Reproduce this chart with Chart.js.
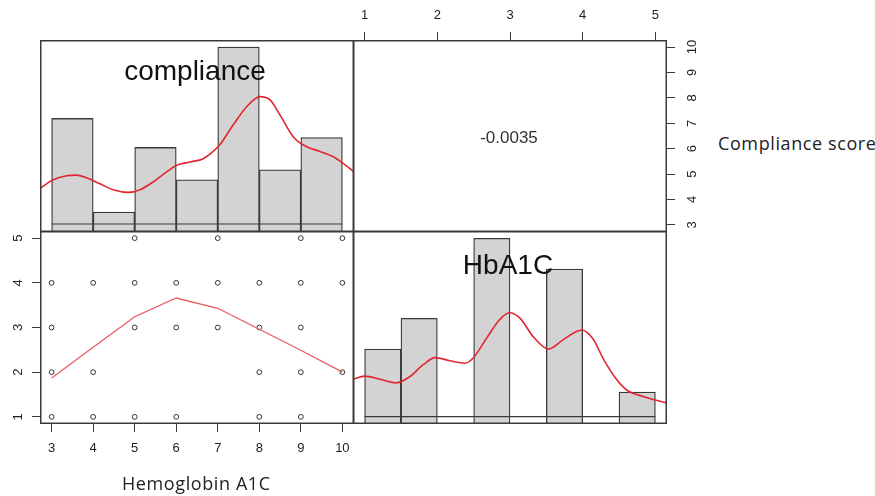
<!DOCTYPE html>
<html>
<head>
<meta charset="utf-8">
<script src="https://cdn.jsdelivr.net/npm/chart.js@4.4.0/dist/chart.umd.min.js"></script>
<style>
  body { margin: 0; background: #fff; width: 875px; height: 496px; position: relative; overflow: hidden; font-family: "Liberation Sans", Arial, sans-serif; }
  canvas { position: absolute; }
  .lbl { position: absolute; white-space: nowrap; line-height: 1; color: #111; }
  .note { position: absolute; white-space: nowrap; line-height: 1; color: #222; font-family: "Open Sans", Lato, sans-serif; letter-spacing: 0.6px; }
</style>
</head>
<body>
<canvas id="tl" width="314" height="192" style="left:40px;top:40px"></canvas>
<canvas id="tr" width="359" height="232" style="left:353px;top:0px"></canvas>
<canvas id="bl" width="354" height="238" style="left:0px;top:231px"></canvas>
<canvas id="br" width="314" height="193" style="left:353px;top:231px"></canvas>

<div class="lbl" style="left:195px;top:57px;font-size:28px;transform:translateX(-50%)">compliance</div>
<div class="lbl" style="left:508px;top:251px;font-size:28px;transform:translateX(-50%)">HbA1C</div>
<div class="lbl" style="left:509px;top:129px;font-size:17px;color:#333;transform:translateX(-50%)">-0.0035</div>
<div class="note" style="left:718px;top:134px;font-size:18px">Compliance score</div>
<div class="note" style="left:122px;top:474px;font-size:18px">Hemoglobin A1C</div>

<script>
// compliance histogram (bins of width 1 from 3 to 10)
const complianceBins = [3.5, 4.5, 5.5, 6.5, 7.5, 8.5, 9.5];
const complianceCounts = [16.0, 1.8, 11.6, 6.7, 26.8, 8.2, 13.1];
// compliance density
const complianceDensX = [2.72, 3.04, 3.36, 3.60, 3.84, 4.16, 4.48, 4.85, 5.13, 5.45, 5.77, 6.01, 6.33, 6.65, 6.89, 7.05, 7.37, 7.70, 8.02, 8.26, 8.50, 8.82, 9.14, 9.46, 9.78, 10.02, 10.22, 10.28];
const complianceDensY = [5.4, 6.7, 7.3, 7.4, 7.0, 6.1, 5.2, 4.8, 5.2, 6.4, 7.9, 8.9, 9.4, 9.9, 11.0, 12.0, 15.0, 17.8, 19.3, 18.8, 16.5, 13.2, 11.7, 11.0, 10.2, 9.2, 8.2, 7.9];

// HbA1C histogram (bins of width 0.5 from 1 to 5)
const hbBins = [1.25, 1.75, 2.75, 3.75, 4.75];
const hbCounts = [11, 16, 29, 24, 4];
const hbDensX = [0.84, 1.0, 1.21, 1.44, 1.62, 1.81, 1.97, 2.17, 2.38, 2.49, 2.68, 2.86, 2.99, 3.14, 3.32, 3.53, 3.73, 3.99, 4.15, 4.28, 4.47, 4.61, 4.83, 5.13, 5.16];
const hbDensY = [6.1, 6.6, 6.1, 5.5, 6.5, 8.5, 9.6, 9.1, 8.7, 9.5, 12.8, 15.8, 16.9, 16.0, 13.0, 11.0, 12.5, 14.1, 12.5, 9.5, 6.0, 4.3, 3.3, 2.3, 2.2];

// scatter: compliance (x) vs HbA1C (y)
const scatterX = [5, 7, 9, 10,  3, 4, 5, 6, 7, 8, 9, 10,  3, 5, 6, 7, 8, 9,  3, 4, 8, 9, 10,  3, 4, 5, 6, 8, 9];
const scatterY = [5, 5, 5, 5,   4, 4, 4, 4, 4, 4, 4, 4,   3, 3, 3, 3, 3, 3,  2, 2, 2, 2, 2,   1, 1, 1, 1, 1, 1];
const lowessX = [3, 4, 5, 6, 7, 8, 9, 10];
const lowessY = [1.87, 2.56, 3.24, 3.66, 3.43, 2.96, 2.49, 2.0];

// tick labels
const complianceTicks = [3, 4, 5, 6, 7, 8, 9, 10];
const hbTicks = [1, 2, 3, 4, 5];

const RED = "rgb(226, 38, 48)";
const LINE = "#3a3a3a";
const TICK_FONT = { family: "'Liberation Sans', Arial, sans-serif", size: 13 };

const toPoints = (xs, ys) => xs.map((x, i) => ({ x: x, y: ys[i] }));

// draws the panel frame like R's box()
const boxPlugin = {
  id: "box",
  afterDraw(chart) {
    const { ctx, chartArea: a } = chart;
    ctx.save();
    ctx.strokeStyle = LINE;
    ctx.lineWidth = 1.5;
    ctx.strokeRect(a.left + 0.75, a.top + 0.75, a.right - a.left - 1.5, a.bottom - a.top - 1.5);
    ctx.restore();
  }
};

function hiddenAxis(min, max) {
  return { type: "linear", min: min, max: max, display: false };
}

function shownAxis(min, max, position, ticks, size, rotate) {
  return {
    type: "linear",
    position: position,
    min: min,
    max: max,
    afterBuildTicks: (scale) => { scale.ticks = ticks.map(v => ({ value: v })); },
    afterFit: (scale) => {
      if (scale.isHorizontal()) scale.height = size; else scale.width = size;
      // keep the panel exactly where it is, labels may hang over
      scale.paddingTop = scale.paddingBottom = scale.paddingLeft = scale.paddingRight = 0;
    },
    border: { display: false },
    grid: { drawOnChartArea: false, drawTicks: true, tickLength: 8, color: LINE, lineWidth: 1 },
    ticks: {
      color: "#222",
      font: TICK_FONT,
      padding: rotate ? 10 : 9,
      minRotation: rotate ? 90 : 0,
      maxRotation: rotate ? 90 : 0,
      crossAlign: rotate ? "center" : "near",
      autoSkip: false
    }
  };
}

const baseOptions = {
  responsive: false,
  animation: false,
  layout: { padding: 0, autoPadding: false },
  plugins: { legend: { display: false }, tooltip: { enabled: false } }
};

function histChart(id, bins, counts, densX, densY, xMin, xMax, yMin, yMax, edges) {
  return new Chart(document.getElementById(id), {
    type: "bar",
    data: {
      datasets: [
        {
          type: "line",
          data: toPoints(densX, densY),
          borderColor: RED,
          borderWidth: 1.6,
          pointRadius: 0,
          cubicInterpolationMode: "monotone",
          order: 0
        },
        {
          type: "line",
          data: toPoints(edges, [0, 0]),
          borderColor: LINE,
          borderWidth: 1.2,
          pointRadius: 0,
          order: 1
        },
        {
          type: "bar",
          data: toPoints(bins, counts),
          base: yMin,
          backgroundColor: "#d3d3d3",
          borderColor: LINE,
          borderWidth: 1.3,
          borderSkipped: false,
          barPercentage: 1,
          categoryPercentage: 1,
          order: 2
        }
      ]
    },
    options: Object.assign({}, baseOptions, {
      scales: {
        x: Object.assign(hiddenAxis(xMin, xMax), { offset: false }),
        y: hiddenAxis(yMin, yMax)
      }
    }),
    plugins: [boxPlugin]
  });
}

// top-left: compliance histogram
histChart("tl", complianceBins, complianceCounts, complianceDensX, complianceDensY,
  2.72, 10.28, -1.21, 27.88, [3, 10]);

// bottom-right: HbA1C histogram
histChart("br", hbBins, hbCounts, hbDensX, hbDensY,
  0.84, 5.16, -1.19, 30.2, [1, 5]);

// top-right: correlation panel with the top and right axes
new Chart(document.getElementById("tr"), {
  type: "scatter",
  data: { datasets: [{ data: [] }] },
  options: Object.assign({}, baseOptions, {
    scales: {
      x: shownAxis(0.84, 5.16, "top", hbTicks, 40, false),
      y: shownAxis(2.72, 10.28, "right", complianceTicks, 45, true)
    }
  }),
  plugins: [boxPlugin]
});

// bottom-left: scatter with lowess line and the left and bottom axes
new Chart(document.getElementById("bl"), {
  type: "scatter",
  data: {
    datasets: [
      {
        type: "line",
        data: toPoints(lowessX, lowessY),
        borderColor: "rgb(236, 90, 98)",
        borderWidth: 1.3,
        pointRadius: 0,
        tension: 0,
        order: 0
      },
      {
        data: toPoints(scatterX, scatterY),
        pointRadius: 2.4,
        pointStyle: "circle",
        backgroundColor: "rgba(0,0,0,0)",
        borderColor: "#333",
        borderWidth: 1,
        order: 1
      }
    ]
  },
  options: Object.assign({}, baseOptions, {
    scales: {
      x: shownAxis(2.72, 10.28, "bottom", complianceTicks, 45, false),
      y: shownAxis(0.84, 5.16, "left", hbTicks, 40, true)
    }
  }),
  plugins: [boxPlugin]
});
</script>
</body>
</html>
